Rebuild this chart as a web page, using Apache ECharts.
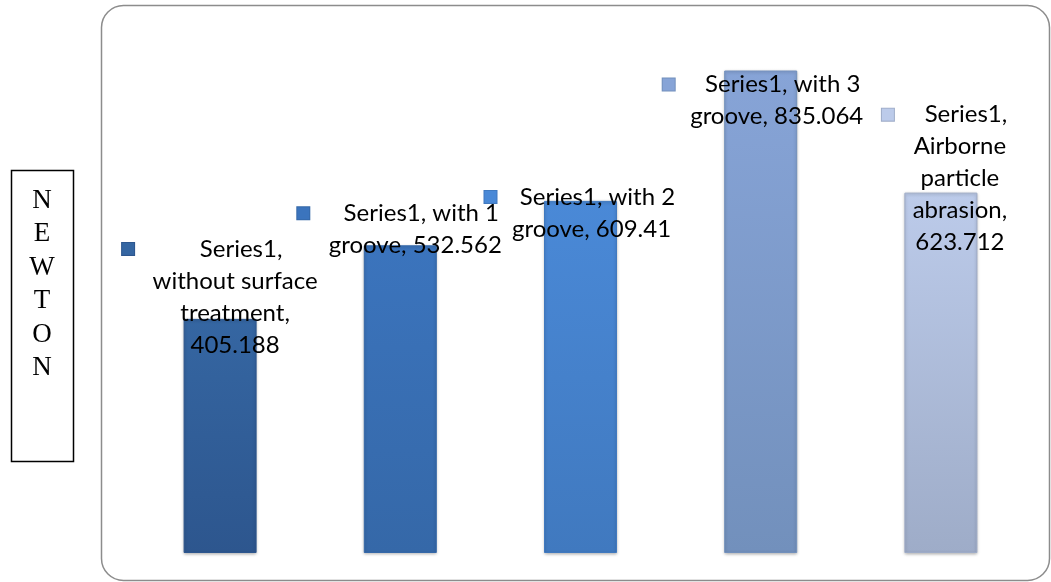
<!DOCTYPE html>
<html>
<head>
<meta charset="utf-8">
<script src="https://cdn.jsdelivr.net/npm/echarts@6/dist/echarts.min.js"></script>
<style>
  html, body { margin: 0; padding: 0; background: #fff; }
  #chart { width: 1051px; height: 582px; }
</style>
</head>
<body>
<div id="chart"></div>
<script>
// data
const categories = ['without surface treatment', 'with 1 groove', 'with 2 groove', 'with 3 groove', 'Airborne particle abrasion'];
const values = [405.188, 532.562, 609.41, 835.064, 623.712];
// label text as it wraps in the original
const labelLines = [
    ['Series1,', 'without surface', 'treatment,', '405.188'],
    ['Series1, with 1', 'groove, 532.562'],
    ['Series1, with 2', 'groove, 609.41'],
    ['Series1, with 3', 'groove, 835.064'],
    ['Series1,', 'Airborne', 'particle', 'abrasion,', '623.712']
];
const yAxisName = 'NEWTON';

const barTop = ['#3566a2', '#3b74bd', '#4a89d7', '#87a4d7', '#bccbea'];
const barBottom = ['#2d568e', '#3568a8', '#4079bf', '#7290bc', '#9eacc8'];
const labelBox = [226, 236, 214, 228, 156];
const labelOffset = [[15, 42], [15, 16], [11, 44], [16, 62], [19, 66]];

const echart = echarts.init(document.getElementById('chart'));

const seriesData = values.map(function (v, i) {
    return {
        value: v,
        itemStyle: {
            color: new echarts.graphic.LinearGradient(0, 0, 0, 1, [
                { offset: 0, color: barTop[i] },
                { offset: 1, color: barBottom[i] }
            ]),
            borderColor: barBottom[i],
            borderWidth: 1,
            shadowColor: 'rgba(0,0,0,0.25)',
            shadowBlur: 3,
            shadowOffsetY: 1
        },
        label: {
            show: true,
            position: 'top',
            distance: 0,
            offset: labelOffset[i],
            width: labelBox[i],
            align: 'center',
            formatter: '{sq|}' + labelLines[i].join('\n'),
            rich: {
                sq: {
                    align: 'left',
                    width: 12,
                    height: 12,
                    backgroundColor: barTop[i],
                    borderColor: barBottom[i],
                    borderWidth: 1
                }
            }
        }
    };
});

const option = {
    animation: false,
    backgroundColor: '#fff',
    grid: { left: 130, right: 20, top: 33, bottom: 29 },
    xAxis: {
        type: 'category',
        data: categories,
        show: false
    },
    yAxis: {
        type: 'value',
        min: 0,
        max: 900,
        show: false
    },
    graphic: [
        {
            type: 'rect',
            shape: { x: 101.5, y: 5.5, width: 948, height: 575, r: 22 },
            style: { fill: 'none', stroke: '#8c8c8c', lineWidth: 1.5 },
            z: -1
        },
        {
            type: 'rect',
            shape: { x: 11.5, y: 170.5, width: 62, height: 291 },
            style: { fill: '#fff', stroke: '#000', lineWidth: 1.5 }
        },
        {
            type: 'text',
            x: 42,
            y: 184,
            style: {
                text: yAxisName.split('').join('\n'),
                font: '27px "Liberation Serif"',
                lineHeight: 33.5,
                fill: '#000',
                align: 'center'
            }
        }
    ],
    series: [{
        name: 'Series1',
        type: 'bar',
        barWidth: 73,
        data: seriesData,
        label: {
            color: '#000',
            fontFamily: 'Lato',
            fontSize: 24,
            lineHeight: 32
        }
    }]
};

echart.setOption(option);
</script>
</body>
</html>
